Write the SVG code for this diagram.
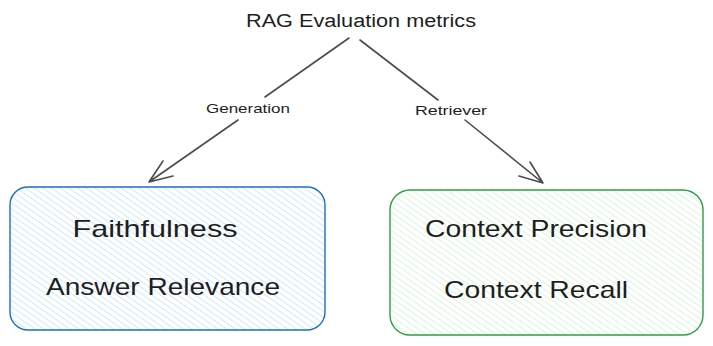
<svg xmlns="http://www.w3.org/2000/svg" width="713" height="346" viewBox="0 0 713 346">
<style>
text{font-family:"Liberation Sans","DejaVu Sans",sans-serif;fill:#1e1e1e;}
.title{font-size:18px;}
.lbl{font-size:13px;}
.big{font-size:24px;}
.edge{fill:none;stroke:#1e1e1e;stroke-width:1.6;stroke-linecap:round;stroke-linejoin:round;opacity:0.8;}
</style>
<defs>
<pattern id="hb" width="5" height="5" patternUnits="userSpaceOnUse" patternTransform="rotate(-55)">
<rect width="5" height="5" fill="#ffffff"/>
<line x1="0" y1="0" x2="0" y2="5" stroke="#a5d8ff" stroke-width="1.1"/>
</pattern>
<pattern id="hg" width="5" height="5" patternUnits="userSpaceOnUse" patternTransform="rotate(-55)">
<rect width="5" height="5" fill="#ffffff"/>
<line x1="0" y1="0" x2="0" y2="5" stroke="#b2f2bb" stroke-width="1.1"/>
</pattern>
</defs>
<rect width="713" height="346" fill="#ffffff"/>
<g id="title">
<text class="title" x="361" y="27" text-anchor="middle" textLength="230" lengthAdjust="spacingAndGlyphs">RAG Evaluation metrics</text>
</g>
<g id="connectors">
<path class="edge" d="M349 38 L265 97 M238 120 L149 182 M163 161 L149 182 L173 176"/>
<path class="edge" d="M360 40 L438 100 M465 120 L543 183 M530 162 L543 183 L519 176"/>
<text class="lbl" x="248" y="113" text-anchor="middle" textLength="84" lengthAdjust="spacingAndGlyphs">Generation</text>
<text class="lbl" x="451" y="115" text-anchor="middle" textLength="72" lengthAdjust="spacingAndGlyphs">Retriever</text>
</g>
<g id="generation">
<rect x="10" y="187" width="315" height="143" rx="18" fill="url(#hb)" stroke="#1971c2" stroke-width="1.4"/>
<text class="big" x="155" y="237" text-anchor="middle" textLength="165" lengthAdjust="spacingAndGlyphs">Faithfulness</text>
<text class="big" x="163" y="295" text-anchor="middle" textLength="234" lengthAdjust="spacingAndGlyphs">Answer Relevance</text>
</g>
<g id="retriever">
<rect x="390" y="190" width="313" height="145" rx="20" fill="url(#hg)" stroke="#2f9e44" stroke-width="1.4"/>
<text class="big" x="536" y="237" text-anchor="middle" textLength="222" lengthAdjust="spacingAndGlyphs">Context Precision</text>
<text class="big" x="536" y="298" text-anchor="middle" textLength="184" lengthAdjust="spacingAndGlyphs">Context Recall</text>
</g>
</svg>
